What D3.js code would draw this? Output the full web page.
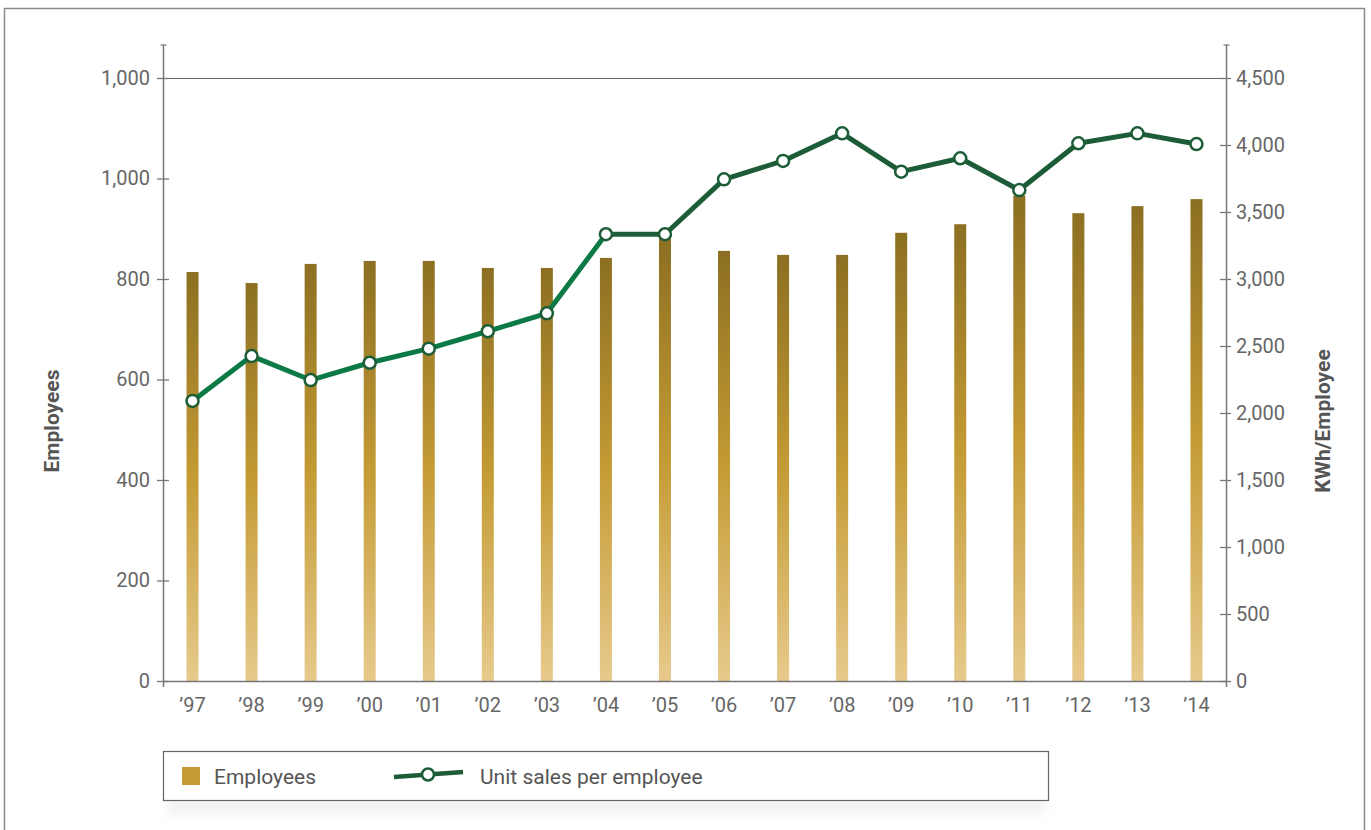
<!DOCTYPE html>
<html>
<head>
<meta charset="utf-8">
<script src="https://cdn.jsdelivr.net/npm/d3@7"></script>
<style>
  html, body { margin: 0; padding: 0; background: #fff; }
  svg { display: block; }
  text { font-family: Roboto, "DejaVu Sans", sans-serif; }
</style>
</head>
<body>
<svg id="chart" width="1371" height="830"></svg>
<script>
// Fiscal years shown on the x axis
const years = ["’97","’98","’99","’00","’01","’02","’03","’04","’05","’06","’07","’08","’09","’10","’11","’12","’13","’14"];

// Number of employees (left axis)
const employees = [814, 792, 830, 836, 836, 822, 822, 842, 881, 856, 848, 848, 892, 909, 966, 931, 945, 959];

// Unit sales per employee, KWh/Employee (right axis)
const salesPerEmployee = [2090, 2425, 2246, 2375, 2480, 2610, 2744, 3334, 3334, 3744, 3881, 4087, 3801, 3901, 3664, 4013, 4087, 4007];

// Axis ticks and their printed labels
const leftTicks = [0, 200, 400, 600, 800, 1000, 1200];
const leftTickLabels = ["0", "200", "400", "600", "800", "1,000", "1,000"];
const rightTicks = [0, 500, 1000, 1500, 2000, 2500, 3000, 3500, 4000, 4500];
const rightTickLabels = ["0", "500", "1,000", "1,500", "2,000", "2,500", "3,000", "3,500", "4,000", "4,500"];

const svg = d3.select("#chart");
const axisColor = "#777";
const labelColor = "#666";
const darkGreen = "#1c5d38";
const brightGreen = "#0c7a45";

const plot = { left: 163, right: 1226, top: 78, bottom: 681, axisTop: 45 };

const x = d3.scaleBand().domain(years).range([plot.left, plot.right]).paddingInner(0).paddingOuter(0);
const yLeft = d3.scaleLinear().domain([0, 1200]).range([plot.bottom, plot.top]);
const yRight = d3.scaleLinear().domain([0, 4500]).range([plot.bottom, plot.top]);

// Outer frame (open at the bottom)
svg.append("path")
  .attr("d", "M4.5,830 L4.5,8.5 L1364.5,8.5 L1364.5,830")
  .attr("fill", "none").attr("stroke", "#8a8a8a").attr("stroke-width", 1.5);

const defs = svg.append("defs");
const grad = defs.append("linearGradient")
  .attr("id", "barGrad").attr("x1", 0).attr("y1", 0).attr("x2", 0).attr("y2", 1);
grad.append("stop").attr("offset", "0%").attr("stop-color", "#8c6f22");
grad.append("stop").attr("offset", "50%").attr("stop-color", "#c49b34");
grad.append("stop").attr("offset", "100%").attr("stop-color", "#e7ca8c");

const blur = defs.append("filter").attr("id", "soft").attr("x", "-5%").attr("y", "-50%").attr("width", "110%").attr("height", "200%");
blur.append("feGaussianBlur").attr("stdDeviation", 6);

// Top reference line
svg.append("line")
  .attr("x1", plot.left).attr("x2", plot.right)
  .attr("y1", yLeft(1200) + 0.5).attr("y2", yLeft(1200) + 0.5)
  .attr("stroke", "#666").attr("stroke-width", 1.2);

// Bars
const barW = 12;
svg.append("g").selectAll("rect")
  .data(employees)
  .join("rect")
  .attr("x", (d, i) => x(years[i]) + x.bandwidth() / 2 - barW / 2)
  .attr("width", barW)
  .attr("y", d => yLeft(d))
  .attr("height", d => yLeft(0) - yLeft(d))
  .attr("fill", "url(#barGrad)");

// Left axis
const leftAxis = d3.axisLeft(yLeft)
  .tickValues(leftTicks)
  .tickFormat((d, i) => leftTickLabels[i])
  .tickSizeInner(6).tickSizeOuter(0).tickPadding(7);
const gL = svg.append("g").attr("transform", `translate(${plot.left},0)`).call(leftAxis);
gL.select(".domain").remove();
gL.selectAll(".tick line").attr("x1", -6).attr("x2", 6).attr("stroke", axisColor).attr("stroke-width", 1.3);
gL.selectAll(".tick text").attr("fill", labelColor).attr("font-size", 20);
svg.append("line").attr("x1", plot.left + 0.5).attr("x2", plot.left + 0.5)
  .attr("y1", plot.axisTop).attr("y2", plot.bottom + 6)
  .attr("stroke", axisColor).attr("stroke-width", 1.5);
svg.append("line").attr("x1", plot.left - 2.5).attr("x2", plot.left + 3.5)
  .attr("y1", plot.axisTop).attr("y2", plot.axisTop)
  .attr("stroke", axisColor).attr("stroke-width", 1.2);

// Right axis
const rightAxis = d3.axisRight(yRight)
  .tickValues(rightTicks)
  .tickFormat((d, i) => rightTickLabels[i])
  .tickSizeInner(5).tickSizeOuter(0).tickPadding(5);
const gR = svg.append("g").attr("transform", `translate(${plot.right},0)`).call(rightAxis);
gR.select(".domain").remove();
gR.selectAll(".tick line").attr("x1", -6).attr("x2", 5).attr("stroke", axisColor).attr("stroke-width", 1.3);
gR.selectAll(".tick text").attr("fill", labelColor).attr("font-size", 20);
svg.append("line").attr("x1", plot.right + 0.5).attr("x2", plot.right + 0.5)
  .attr("y1", plot.axisTop).attr("y2", plot.bottom + 6)
  .attr("stroke", axisColor).attr("stroke-width", 1.5);
svg.append("line").attr("x1", plot.right - 2.5).attr("x2", plot.right + 3.5)
  .attr("y1", plot.axisTop).attr("y2", plot.axisTop)
  .attr("stroke", axisColor).attr("stroke-width", 1.2);

// Bottom axis
const bottomAxis = d3.axisBottom(x).tickSize(0).tickPadding(17);
const gB = svg.append("g").attr("transform", `translate(0,${plot.bottom})`).call(bottomAxis);
gB.select(".domain").remove();
gB.selectAll(".tick text").attr("fill", labelColor).attr("font-size", 20);
svg.append("line").attr("x1", plot.left).attr("x2", plot.right + 1)
  .attr("y1", plot.bottom + 0.5).attr("y2", plot.bottom + 0.5)
  .attr("stroke", axisColor).attr("stroke-width", 1.5);

// Axis titles
svg.append("text")
  .attr("transform", `translate(59,421) rotate(-90)`)
  .attr("text-anchor", "middle")
  .attr("font-size", 21).attr("font-weight", "bold").attr("fill", "#555")
  .text("Employees");
svg.append("text")
  .attr("transform", `translate(1330,421) rotate(-90)`)
  .attr("text-anchor", "middle")
  .attr("font-size", 21).attr("font-weight", "bold").attr("fill", "#555")
  .text("KWh/Employee");

// Sales-per-employee line: brighter green through '04, darker afterwards
const cx = i => x(years[i]) + x.bandwidth() / 2;
const line = d3.line().x(d => cx(d.i)).y(d => yRight(d.v));
const pts = salesPerEmployee.map((v, i) => ({ i, v }));
svg.append("path").datum(pts.slice(0, 8)).attr("d", line)
  .attr("fill", "none").attr("stroke", brightGreen).attr("stroke-width", 5).attr("stroke-linejoin", "round");
svg.append("path").datum(pts.slice(7)).attr("d", line)
  .attr("fill", "none").attr("stroke", darkGreen).attr("stroke-width", 5).attr("stroke-linejoin", "round");
svg.append("g").selectAll("circle")
  .data(pts)
  .join("circle")
  .attr("cx", d => cx(d.i))
  .attr("cy", d => yRight(d.v))
  .attr("r", 6)
  .attr("fill", "#fff")
  .attr("stroke", darkGreen)
  .attr("stroke-width", 2.5);

// Legend
const lg = { x: 163.5, y: 751.5, w: 885, h: 49 };
svg.append("rect").attr("x", lg.x + 4).attr("y", lg.y + lg.h - 6).attr("width", lg.w - 8).attr("height", 20)
  .attr("fill", "#e8e8e8").attr("opacity", 0.6).attr("filter", "url(#soft)");
svg.append("rect").attr("x", lg.x).attr("y", lg.y).attr("width", lg.w).attr("height", lg.h)
  .attr("fill", "#fff").attr("stroke", "#666").attr("stroke-width", 1.2);
svg.append("rect").attr("x", 182).attr("y", 767).attr("width", 18).attr("height", 18).attr("fill", "#c39a33");
svg.append("text").attr("x", 214).attr("y", 784).attr("font-size", 21).attr("fill", "#555").text("Employees");
svg.append("path").attr("d", "M394,777 L463,772")
  .attr("stroke", darkGreen).attr("stroke-width", 4.5).attr("fill", "none");
svg.append("circle").attr("cx", 428).attr("cy", 774.5).attr("r", 6)
  .attr("fill", "#fff").attr("stroke", darkGreen).attr("stroke-width", 2.5);
svg.append("text").attr("x", 480).attr("y", 784).attr("font-size", 21).attr("fill", "#555").text("Unit sales per employee");
</script>
</body>
</html>
